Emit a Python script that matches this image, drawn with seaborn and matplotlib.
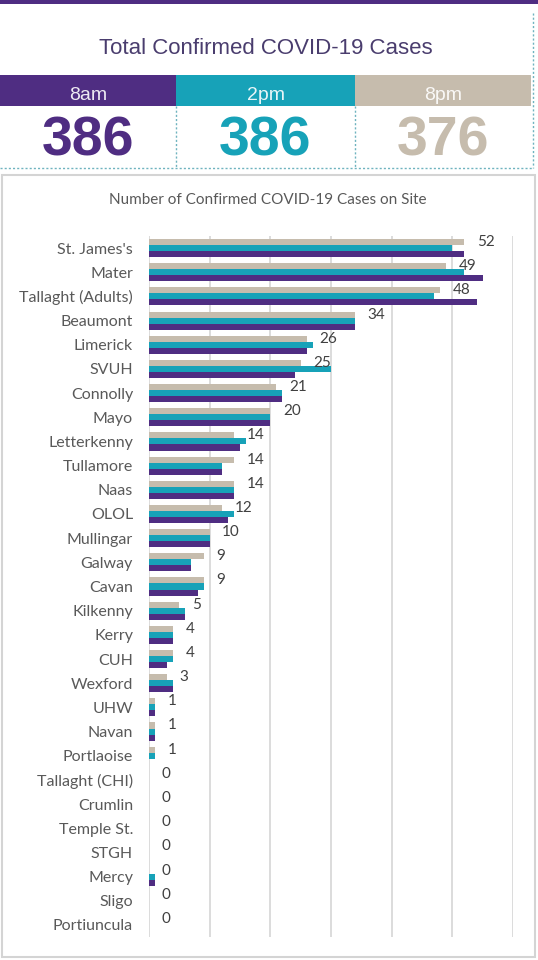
import pandas as pd
import seaborn as sns
import matplotlib.pyplot as plt
from matplotlib.patches import Rectangle
from matplotlib.lines import Line2D

# Hospitals, top to bottom
hospitals = [
    "St. James's", "Mater", "Tallaght (Adults)", "Beaumont", "Limerick", "SVUH",
    "Connolly", "Mayo", "Letterkenny", "Tullamore", "Naas", "OLOL", "Mullingar",
    "Galway", "Cavan", "Kilkenny", "Kerry", "CUH", "Wexford", "UHW", "Navan",
    "Portlaoise", "Tallaght (CHI)", "Crumlin", "Temple St.", "STGH", "Mercy",
    "Sligo", "Portiuncula",
]
cases_8pm = [52, 49, 48, 34, 26, 25, 21, 20, 14, 14, 14, 12, 10, 9, 9, 5, 4, 4, 3,
             1, 1, 1, 0, 0, 0, 0, 0, 0, 0]
cases_2pm = [50, 52, 47, 34, 27, 30, 22, 20, 16, 12, 14, 14, 10, 7, 9, 6, 4, 4, 4,
             1, 1, 1, 0, 0, 0, 0, 1, 0, 0]
cases_8am = [52, 55, 54, 34, 26, 24, 22, 20, 15, 12, 14, 13, 10, 7, 8, 6, 4, 3, 4,
             1, 1, 0, 0, 0, 0, 0, 1, 0, 0]

times = ["8am", "2pm", "8pm"]
totals = [386, 386, 376]

purple = "#4f2d82"
teal = "#17a2b8"
tan = "#c6bcad"
colors = {"8am": purple, "2pm": teal, "8pm": tan}

# long table for seaborn
df = pd.concat([
    pd.DataFrame({"Hospital": hospitals, "Time": "8pm", "Cases": cases_8pm}),
    pd.DataFrame({"Hospital": hospitals, "Time": "2pm", "Cases": cases_2pm}),
    pd.DataFrame({"Hospital": hospitals, "Time": "8am", "Cases": cases_8am}),
], ignore_index=True)

sns.set_theme(style="white")
plt.rcParams["font.family"] = ["Lato", "DejaVu Sans"]

W, H = 538, 960
fig = plt.figure(figsize=(W / 100, H / 100), dpi=100)


def fx(px):
    return px / W


def fy(py):
    return 1 - py / H


# ---- header block ----
fig.add_artist(Rectangle((0, fy(4)), 1, 4 / H, transform=fig.transFigure,
                         color=purple, lw=0))
fig.text(fx(266), fy(54), "Total Confirmed COVID-19 Cases", ha="center",
         va="baseline", fontsize=16, color="#4a3d6e", family="Liberation Sans")

band_edges = [(0, 176), (176, 355), (355, 531)]
for t, total, (x0, x1) in zip(times, totals, band_edges):
    fig.add_artist(Rectangle((fx(x0), fy(106)), fx(x1 - x0), 31 / H,
                             transform=fig.transFigure, color=colors[t], lw=0))
    xc = fx((x0 + x1) / 2)
    fig.text(xc, fy(100), t, ha="center", va="baseline", fontsize=14,
             color="white", alpha=0.9, family="Liberation Sans")
    fig.text(xc, fy(155), str(total), ha="center", va="baseline", fontsize=40,
             fontweight="bold", color=colors[t], family="Liberation Sans")

dot = dict(color="#6fb3bf", lw=1.0, ls=(0, (1.5, 1.5)), transform=fig.transFigure)
fig.add_artist(Line2D([0, fx(533)], [fy(168), fy(168)], **dot))
fig.add_artist(Line2D([fx(533), fx(533)], [fy(13), fy(168)], **dot))
for xd in (176, 355):
    fig.add_artist(Line2D([fx(xd), fx(xd)], [fy(106), fy(168)], **dot))

# ---- chart panel ----
fig.add_artist(Rectangle((fx(2), fy(957)), fx(533), (957 - 175) / H,
                         transform=fig.transFigure, fill=False,
                         edgecolor="#d4d4d4", lw=1.5))
fig.text(fx(268), fy(204), "Number of Confirmed COVID-19 Cases on Site",
         ha="center", va="baseline", fontsize=11, color="#595959")

ax = fig.add_axes([fx(149), fy(937), fx(513 - 149), (937 - 236) / H])
sns.barplot(data=df, y="Hospital", x="Cases", hue="Time",
            hue_order=["8pm", "2pm", "8am"], palette=colors, order=hospitals,
            width=0.75, saturation=1, linewidth=0, legend=False, ax=ax)

ax.bar_label(ax.containers[0], padding=9, fontsize=11, color="#404040")

ax.set_xlim(0, 60)
ax.set_xticks(range(0, 61, 10))
ax.set_xticklabels([])
ax.grid(axis="x", color="#d9d9d9", lw=1.3)
ax.set_axisbelow(True)
ax.set_xlabel("")
ax.set_ylabel("")
ax.tick_params(axis="y", length=0, pad=11.5, labelsize=11.5, labelcolor="#595959")
ax.tick_params(axis="x", length=0)
for s in ax.spines.values():
    s.set_visible(False)

plt.savefig("out.png", dpi=100)
plt.close()
